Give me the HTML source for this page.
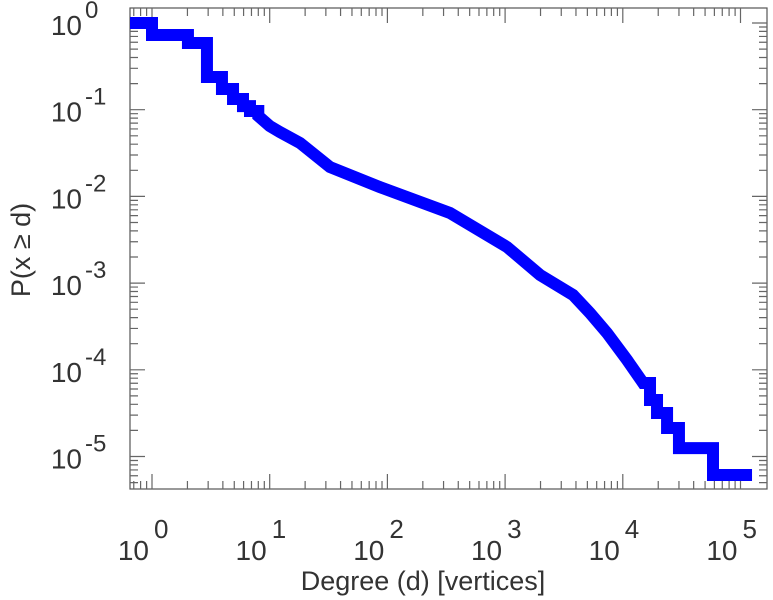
<!DOCTYPE html>
<html><head><meta charset="utf-8"><style>
body{margin:0;background:#fff;}
svg{display:block;font-family:"Liberation Sans",sans-serif;}
</style></head><body>
<svg width="773" height="600" id="c"></svg>
<script>
const degrees=[1,1,2.02,2.93,3.93,4.88,5.93,6.8,8,10,12.2,18.1,32.5,86.5,340,1038,1982,3777,5260,7340,10860,14860,17030,19530,23770,30000,58400];
const probs=[1,0.727,0.588,0.238,0.173,0.133,0.110,0.0966,0.0846,0.0649,0.0553,0.0413,0.0218,0.0128,0.00644,0.00261,0.00124,0.00073,0.000452,0.000266,0.000130,0.0000705,0.0000449,0.0000318,0.0000213,0.0000125,0.00000612];
const xEnd=125300;
const xTicks=[0,1,2,3,4,5];
const yTicks=[0,-1,-2,-3,-4,-5];
const L=130,R=767,T=8,B=489;
const X=d=>152+Math.log10(d)*117.7;
const Y=p=>23-Math.log10(p)*86.7;
const svg=document.getElementById('c');
const NS='http://www.w3.org/2000/svg';
function mk(t,a,p){const e=document.createElementNS(NS,t);for(const k in a)e.setAttribute(k,a[k]);(p||svg).appendChild(e);return e;}
const frame=mk('rect',{x:L,y:T,width:R-L,height:B-T,fill:'none',stroke:'#555','stroke-width':1.2});


const tg=mk('g',{stroke:'#666','stroke-width':1.2});


let td='';
for(let e=-1;e<=5;e++){for(let m=1;m<10;m++){const x=X(m*Math.pow(10,e));if(x<L||x>R)continue;const len=m==1?15:8;td+=`M${x},${B}v${-len}M${x},${T}v${len}`;}}
for(let e=-6;e<=1;e++){for(let m=1;m<10;m++){const y=Y(m*Math.pow(10,e));if(y<T||y>B)continue;const len=m==1?15:8;td+=`M${L},${y}h${len}M${R},${y}h${-len}`;}}
mk('path',{d:td,fill:'none'},tg);
let d=`M${L},${Y(probs[0])}`;
for(let i=0;i<degrees.length;i++){
  const x=X(degrees[i]),y=Y(probs[i]);
  if(degrees[i]>8 && degrees[i]<16000) d+=`L${x},${y}`;
  else d+=`H${x}V${y}`;
}
d+=`H${X(xEnd)}`;
const line=mk('path',{d:d,fill:'none',stroke:'#0000ff','stroke-width':12,'stroke-linejoin':'miter','stroke-miterlimit':2,'stroke-linecap':'butt'});


xTicks.forEach(e=>{const t=mk('text',{x:X(Math.pow(10,e))-3,y:560,'font-size':28,fill:'#333','text-anchor':'end'});t.textContent='10';


const s=mk('text',{x:X(Math.pow(10,e))+2,y:538,'font-size':26,fill:'#333'});s.textContent=e;

});
yTicks.forEach(e=>{const y=Y(Math.pow(10,e));const t=mk('text',{x:82,y:y+12,'font-size':28,fill:'#333','text-anchor':'end'});t.textContent='10';


const s=mk('text',{x:85,y:y-5,'font-size':24,fill:'#333'});s.textContent=e==0?'0':'-'+(-e);

});
const xl=mk('text',{x:423,y:590,'font-size':27,fill:'#333','text-anchor':'middle'});xl.textContent='Degree (d) [vertices]';


const yl=mk('text',{x:0,y:0,'font-size':27,fill:'#333','text-anchor':'middle',transform:'translate(30,250) rotate(-90)'});yl.textContent='P(x ≥ d)';


</script>
</body></html>
